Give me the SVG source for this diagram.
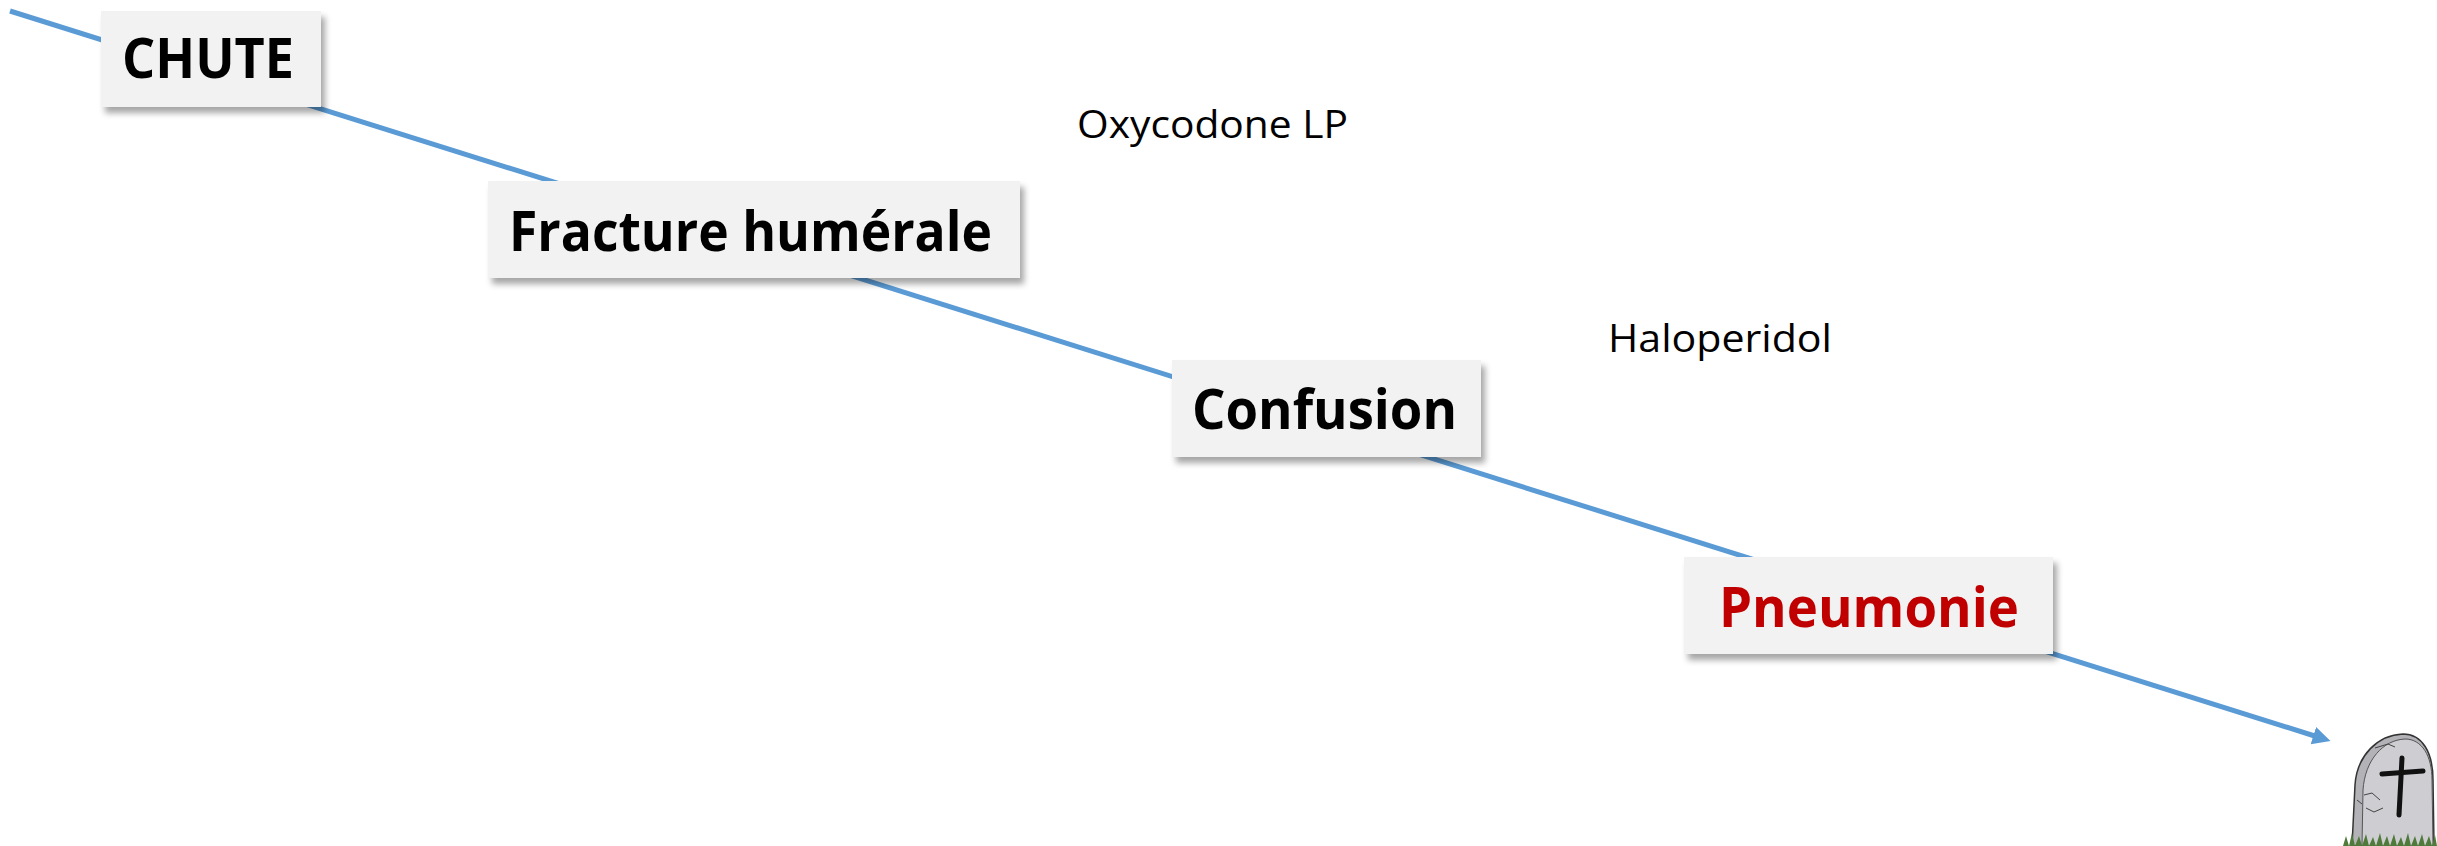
<svg xmlns="http://www.w3.org/2000/svg" width="2437" height="846" viewBox="0 0 2437 846">
<style>
.box{fill:#F2F2F2;filter:url(#sh);}
.lbl{font-family:"Open Sans","Liberation Sans",sans-serif;font-weight:bold;font-size:55px;fill:#000;}
.red{fill:#C00000;}
.note{font-family:"Open Sans","Liberation Sans",sans-serif;font-size:39px;fill:#000;}
.conn{stroke:#5B9BD5;stroke-width:5;fill:none;}
</style>
<defs>
<filter id="sh" x="-10%" y="-10%" width="130%" height="140%">
<feDropShadow dx="4" dy="6" stdDeviation="3" flood-color="#000" flood-opacity="0.35"/>
</filter>
<marker id="arr" markerUnits="userSpaceOnUse" markerWidth="22" markerHeight="22" refX="8" refY="9" orient="auto">
<path d="M0,0 L18,9 L0,18 Z" fill="#5B9BD5"/>
</marker>
</defs>
<g id="connectors">
<line class="conn" x1="10" y1="11" x2="2321" y2="738" marker-end="url(#arr)"/>
</g>
<g id="node-chute">
<rect class="box" x="101" y="11" width="220" height="96"/>
<text class="lbl" x="122" y="78" textLength="172" lengthAdjust="spacingAndGlyphs">CHUTE</text>
</g>
<g id="node-fracture">
<rect class="box" x="488" y="181" width="532" height="97"/>
<text class="lbl" x="509" y="251" textLength="483" lengthAdjust="spacingAndGlyphs">Fracture humérale</text>
</g>
<g id="node-confusion">
<rect class="box" x="1172" y="360" width="309" height="97"/>
<text class="lbl" x="1192" y="429" textLength="265" lengthAdjust="spacingAndGlyphs">Confusion</text>
</g>
<g id="node-pneumonie">
<rect class="box" x="1684" y="557" width="369" height="97"/>
<text class="lbl red" x="1719" y="627" textLength="300" lengthAdjust="spacingAndGlyphs">Pneumonie</text>
</g>
<g id="note-oxycodone">
<text class="note" x="1077" y="138" textLength="271" lengthAdjust="spacingAndGlyphs">Oxycodone LP</text>
</g>
<g id="note-haloperidol">
<text class="note" x="1608" y="352" textLength="224" lengthAdjust="spacingAndGlyphs">Haloperidol</text>
</g>
<g id="tombstone">
<path d="M2352,846 L2355,785 C2357,755 2378,735 2403,734 C2422,734 2433,752 2433,780 L2434,846 Z" fill="#B2B2B7" stroke="#333" stroke-width="1.5"/>
<path d="M2362,846 L2363,790 C2365,760 2383,740 2405,739 C2422,739 2432,756 2432,780 L2433,846 Z" fill="#CDCDD2" stroke="#555" stroke-width="1"/>
<path d="M2375,748 L2388,744 L2395,747 M2364,795 L2372,793 L2380,800 M2366,808 L2374,812 L2383,808 M2357,800 L2362,804" stroke="#444" stroke-width="1" fill="none"/>
<line x1="2402" y1="758" x2="2399" y2="815" stroke="#111" stroke-width="5" stroke-linecap="round"/>
<line x1="2382" y1="774" x2="2423" y2="771" stroke="#111" stroke-width="5" stroke-linecap="round"/>
<path d="M2343,846 L2346,836 L2349,846 L2352,833 L2355,846 L2359,836 L2362,846 L2366,834 L2369,846 L2373,837 L2376,846 L2380,833 L2383,846 L2387,836 L2390,846 L2394,834 L2397,846 L2401,837 L2404,846 L2408,833 L2411,846 L2415,836 L2418,846 L2422,834 L2425,846 L2429,836 L2432,846 L2435,835 L2437,846 Z" fill="#4E7A3A"/>
</g>
</svg>
